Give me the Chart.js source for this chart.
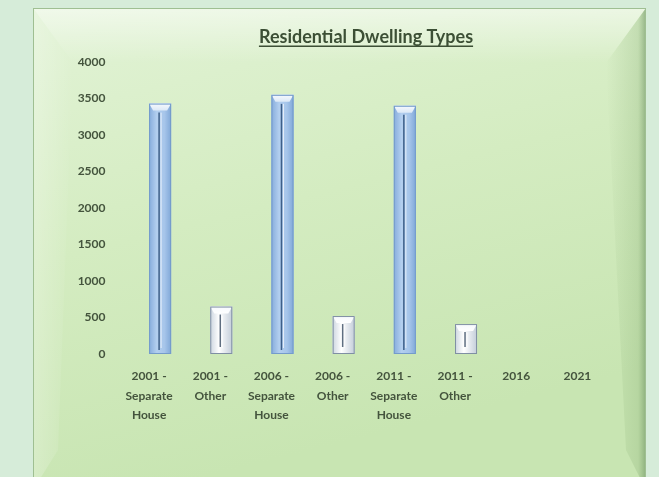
<!DOCTYPE html>
<html>
<head>
<meta charset="utf-8">
<script src="https://cdn.jsdelivr.net/npm/chart.js@4"></script>
<style>
  html, body { margin: 0; padding: 0; background: #d6ecd9; }
  #wrap { width: 659px; height: 477px; }
</style>
</head>
<body>
<div id="wrap"><canvas id="dwellChart" width="659" height="477"></canvas></div>
<script>
// ===== DATA =====
const categories = [
  ["2001 -", "Separate", "House"],
  ["2001 -", "Other"],
  ["2006 -", "Separate", "House"],
  ["2006 -", "Other"],
  ["2011 -", "Separate", "House"],
  ["2011 -", "Other"],
  "2016",
  "2021"
];
const dwellings = [3430, 650, 3550, 520, 3400, 410, null, null];
const yTicks = [0, 500, 1000, 1500, 2000, 2500, 3000, 3500, 4000];
const chartTitle = "Residential Dwelling Types";

const textColor = "#44543d";
const fontFamily = "Lato, 'Open Sans', sans-serif";

function isHouse(i) {
  const c = categories[i];
  return Array.isArray(c) && c.includes("Separate");
}

// green bevelled panel behind the chart
const panelPlugin = {
  id: "panel",
  beforeDraw(chart) {
    const ctx = chart.ctx;
    const x0 = 33, y0 = 8, x1 = 646, y1 = 490;
    ctx.save();
    let g = ctx.createLinearGradient(x0, y0, x0 + 120, y1);
    g.addColorStop(0, "#e2f3d6");
    g.addColorStop(0.5, "#d4ecc1");
    g.addColorStop(1, "#c8e5b2");
    ctx.fillStyle = g;
    ctx.fillRect(x0, y0, x1 - x0, y1 - y0);

    // top bevel
    ctx.beginPath();
    ctx.moveTo(x0, y0); ctx.lineTo(x1, y0); ctx.lineTo(x1 - 40, y0 + 55); ctx.lineTo(x0 + 40, y0 + 55);
    ctx.closePath();
    g = ctx.createLinearGradient(0, y0, 0, y0 + 55);
    g.addColorStop(0, "rgba(255,255,255,0.5)");
    g.addColorStop(1, "rgba(255,255,255,0)");
    ctx.fillStyle = g;
    ctx.fill();

    // left bevel
    ctx.beginPath();
    ctx.moveTo(x0, y0); ctx.lineTo(x0 + 40, y0 + 55); ctx.lineTo(x0 + 25, y1 - 40); ctx.lineTo(x0, y1);
    ctx.closePath();
    g = ctx.createLinearGradient(x0, 0, x0 + 40, 0);
    g.addColorStop(0, "rgba(255,255,255,0.25)");
    g.addColorStop(1, "rgba(255,255,255,0)");
    ctx.fillStyle = g;
    ctx.fill();

    // right bevel
    ctx.beginPath();
    ctx.moveTo(x1, y0); ctx.lineTo(x1 - 40, y0 + 55); ctx.lineTo(x1 - 20, y1 - 40); ctx.lineTo(x1, y1);
    ctx.closePath();
    g = ctx.createLinearGradient(x1 - 40, 0, x1, 0);
    g.addColorStop(0, "rgba(120,160,100,0)");
    g.addColorStop(0.8, "rgba(120,160,100,0.22)");
    g.addColorStop(1, "rgba(90,130,80,0.55)");
    ctx.fillStyle = g;
    ctx.fill();

    ctx.strokeStyle = "#9fbf92";
    ctx.lineWidth = 1;
    ctx.strokeRect(x0 + 0.5, y0 + 0.5, x1 - x0 - 1, y1 - y0);
    ctx.restore();
  }
};

// title with underline
const titlePlugin = {
  id: "ulTitle",
  afterDraw(chart) {
    const ctx = chart.ctx;
    ctx.save();
    ctx.font = "bold 18px " + fontFamily;
    ctx.fillStyle = "#3c4f35";
    ctx.textAlign = "center";
    ctx.textBaseline = "middle";
    const cx = 366, cy = 37;
    ctx.fillText(chartTitle, cx, cy);
    const w = ctx.measureText(chartTitle).width;
    ctx.fillRect(cx - w / 2, cy + 8.5, w, 1.5);
    ctx.restore();
  }
};

// 3D-ish bar decoration
const barLookPlugin = {
  id: "barLook",
  afterDatasetsDraw(chart) {
    const ctx = chart.ctx;
    const meta = chart.getDatasetMeta(0);
    ctx.save();
    meta.data.forEach((bar, i) => {
      if (dwellings[i] == null) return;
      const w = bar.width, l = bar.x - w / 2, r = bar.x + w / 2;
      const top = bar.y, bot = bar.base;
      const house = isHouse(i);
      let g = ctx.createLinearGradient(l, 0, r, 0);
      if (house) {
        g.addColorStop(0, "#86acdc");
        g.addColorStop(0.35, "#b3cfef");
        g.addColorStop(0.7, "#a6c5ea");
        g.addColorStop(1, "#80a8d8");
      } else {
        g.addColorStop(0, "#cdd6e0");
        g.addColorStop(0.4, "#ffffff");
        g.addColorStop(1, "#c3cdd9");
      }
      ctx.fillStyle = g;
      ctx.fillRect(l, top, w, bot - top);

      // top cap
      ctx.beginPath();
      ctx.moveTo(l, top); ctx.lineTo(r, top); ctx.lineTo(r - 4, top + 7);
      ctx.lineTo(l + 4, top + 7); ctx.closePath();
      g = ctx.createLinearGradient(0, top, 0, top + 8);
      g.addColorStop(0, "#f6f9fd");
      g.addColorStop(1, house ? "#d8e6f6" : "#ffffff");
      ctx.fillStyle = g;
      ctx.fill();

      // inner ridge line
      ctx.strokeStyle = house ? "#3e5f88" : "#5f6e80";
      ctx.lineWidth = 1.5;
      ctx.beginPath();
      ctx.moveTo(bar.x - 1, top + (house ? 9 : 8));
      ctx.lineTo(bar.x - 1, bot - (house ? 4 : 7));
      ctx.stroke();
      ctx.strokeStyle = "rgba(255,255,255,0.7)";
      ctx.lineWidth = 1;
      ctx.beginPath();
      ctx.moveTo(bar.x + 1, top + 9);
      ctx.lineTo(bar.x + 1, bot - 6);
      ctx.stroke();

      ctx.strokeStyle = house ? "#749bcb" : "#7f8fa3";
      ctx.lineWidth = 1;
      ctx.strokeRect(l + 0.5, top + 0.5, w - 1, bot - top - 1);
    });
    ctx.restore();
  }
};

new Chart(document.getElementById("dwellChart"), {
  type: "bar",
  data: {
    labels: categories,
    datasets: [{
      label: "Dwellings",
      data: dwellings,
      backgroundColor: categories.map((c, i) => isHouse(i) ? "#a6c5ea" : "#f2f5f8"),
      barPercentage: 0.9,
      categoryPercentage: 0.4
    }]
  },
  options: {
    responsive: false,
    animation: false,
    layout: { padding: { left: 60, right: 40, top: 62, bottom: 43 } },
    plugins: {
      legend: { display: false },
      title: { display: false },
      tooltip: { enabled: false }
    },
    scales: {
      x: {
        grid: { display: false, drawTicks: false },
        border: { display: false },
        afterFit(scale) { scale.height = 80; },
        ticks: {
          color: textColor,
          padding: 13,
          labelOffset: -11,
          maxRotation: 0,
          autoSkip: false,
          font: { family: fontFamily, size: 12, weight: "bold", lineHeight: 1.6 }
        }
      },
      y: {
        min: 0,
        max: 4000,
        grid: { display: false, drawTicks: false },
        border: { display: false },
        afterFit(scale) { scale.width = 69.5; },
        afterBuildTicks(scale) { scale.ticks = yTicks.map(v => ({ value: v })); },
        ticks: {
          color: textColor,
          padding: 24,
          callback: (v) => String(v),
          font: { family: fontFamily, size: 12, weight: "bold" }
        }
      }
    }
  },
  plugins: [panelPlugin, barLookPlugin, titlePlugin]
});
</script>
</body>
</html>
